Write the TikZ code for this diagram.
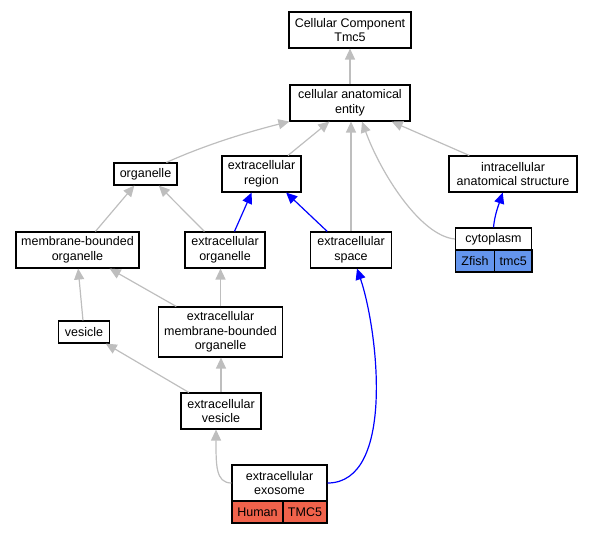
\documentclass[tikz,border=0pt]{standalone}
\usepackage{fontspec}
\setmainfont{Liberation Sans}
\usetikzlibrary{arrows.meta}
\definecolor{colE}{RGB}{190,190,190}
\definecolor{colZ}{RGB}{100,149,237}
\definecolor{colH}{RGB}{240, 98, 75}

\begin{document}
\begin{tikzpicture}[
		x=1pt,y=-1pt,
		every node/.style={draw,line width=1.1pt,inner sep=0pt,align=center,font=\fontsize{12.5}{14.5}\selectfont},
		G/.style={draw=colE,line width=1.2pt,-{Triangle[length=11pt,width=10pt]}},
		B/.style={draw=blue,line width=1.2pt,-{Triangle[length=11pt,width=10pt]}},
		Z/.style={fill=colZ},
		H/.style={fill=colH}
	]
	\useasboundingbox (0,0) rectangle (593,533);

	%the terms
		\foreach \n/\x/\y/\w/\h/\t in {cc/350/30/122/36/{Cellular Component\\Tmc5},
			cae/350/103/120/36/{cellular anatomical\\entity},
			org/145.5/174/63/22/{organelle},
			ereg/261.5/174/79/36/{extracellular\\region},
			ias/513/174/128/36/{intracellular\\anatomical structure},
			mbo/77.5/250/123/36/{membrane-bounded\\organelle},
			eorg/225/250/80/36/{extracellular\\organelle},
			esp/351/250/81/36/{extracellular\\space},
			cyto/493.5/239/76/22/{cytoplasm},
			ves/84/332/51/22/{vesicle},
			embo/220.5/332/124/50/{extracellular\\membrane-bounded\\organelle},
			eves/221/411/80/36/{extracellular\\vesicle},
			exo/279.5/483/95/36/{extracellular\\exosome}}
			\node[minimum width=\w pt,minimum height=\h pt] (\n) at (\x,\y) {\t};
	%the annotations
		\node[Z,minimum width=39pt,minimum height=22pt] (cytoS) at (475,261) {Zfish};
		\node[Z,minimum width=37.5pt,minimum height=22pt] (cytoG) at (513.25,261) {tmc5};
		\node[H,minimum width=51pt,minimum height=22pt] (exoS) at (257.5,512) {Human};
		\node[H,minimum width=44pt,minimum height=22pt] (exoG) at (305,512) {TMC5};

	%is_a edges
		\foreach \a/\b in {cae.north/cc.south, ereg.35/cae.-138, ias.157/cae.-24,
			mbo.46/org.-134, eorg.138/org.-41, ves.95/mbo.-88, embo.150/mbo.-30,
			eves.150/ves.-28}
			\draw[G] (\a) -- (\b);
		\draw[G] (esp.north) -- (esp.north |- cae.south);
		\draw[G] (embo.north) -- (embo.north |- eorg.south);
		\draw[G] (eves.north) -- (eves.north |- embo.south);
		\draw[G] (org.29) .. controls +(40,-18) and +(-40,10) .. (cae.-163);
		\draw[G] (cyto.west) .. controls +(-35,-3) and +(18,50) .. (cae.-57);
		\draw[G] (exo.west) .. controls +(-16,0) and +(0,35) .. (eves.-105);
	%part_of edges
		\foreach \a/\b in {eorg.63/ereg.-118, esp.142/ereg.-37}
			\draw[B] (\a) -- (\b);
		\draw[B] (cyto.north) .. controls +(1,-12) and +(-4,12) .. (ias.-119);
		\draw[B] (exo.east) .. controls +(68,0) and +(21,62) .. (esp.-72);
	\end{tikzpicture}
\end{document}
